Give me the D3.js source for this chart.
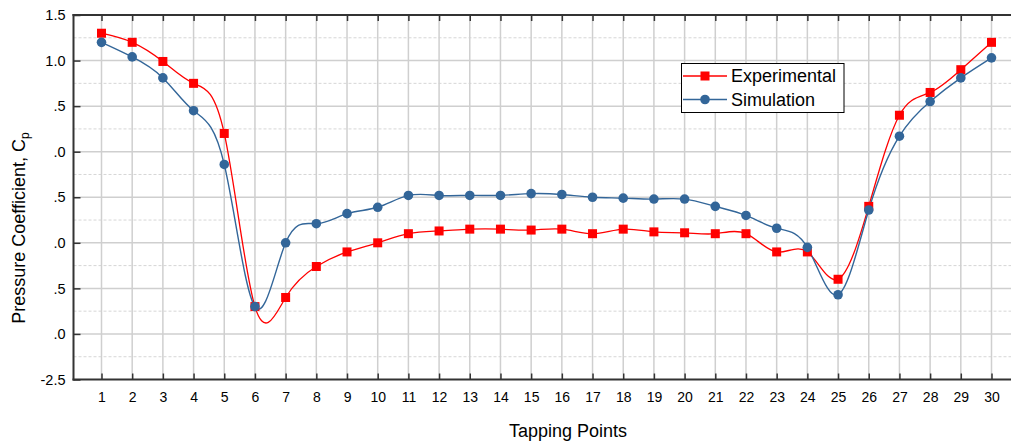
<!DOCTYPE html>
<html>
<head>
<meta charset="utf-8">
<script src="https://cdn.jsdelivr.net/npm/d3@7/dist/d3.min.js"></script>
<style>
  html, body { margin: 0; padding: 0; background: #fff; }
  svg { display: block; font-family: Arial, "Liberation Sans", sans-serif; }
</style>
</head>
<body>
<svg id="chart" width="1011" height="444"></svg>
<script>
// ---- data ----
const tappingPoints = d3.range(1, 31);
const experimental = [1.30, 1.20, 0.99, 0.75, 0.20, -1.70, -1.60, -1.26, -1.10, -1.00,
  -0.90, -0.87, -0.85, -0.85, -0.86, -0.85, -0.90, -0.85, -0.88, -0.89,
  -0.90, -0.90, -1.10, -1.10, -1.40, -0.60, 0.40, 0.65, 0.90, 1.20];
const simulation = [1.20, 1.04, 0.81, 0.45, -0.14, -1.70, -1.00, -0.79, -0.68, -0.61,
  -0.48, -0.48, -0.48, -0.48, -0.46, -0.47, -0.50, -0.51, -0.52, -0.52,
  -0.60, -0.70, -0.84, -1.05, -1.57, -0.64, 0.17, 0.55, 0.81, 1.03];
const yTickValues = [1.5, 1.0, 0.5, 0.0, -0.5, -1.0, -1.5, -2.0, -2.5];
const yTickLabels = ["1.5", "1.0", ".5", ".0", ".5", ".0", ".5", ".0", "-2.5"];
const yMinorValues = [1.25, 0.75, 0.25, -0.25, -0.75, -1.25, -1.75, -2.25];
const seriesNames = ["Experimental", "Simulation"];

// ---- layout ----
const W = 1011, H = 444;
const svg = d3.select("#chart");
const x = d3.scaleLinear().domain([1, 30]).range([101.5, 991.5]);
const xLeft = 73.5, xRight = W + 20;
const y = d3.scaleLinear().domain([-2.5, 1.5]).range([379.5, 15]);

const gridColor = "#cfcfcf";
const axisColor = "#333";
const red = "#ff0000", blue = "#336699";

// minor horizontal grid (dashed)
svg.append("g").selectAll("line").data(yMinorValues).join("line")
  .attr("x1", xLeft).attr("x2", xRight)
  .attr("y1", d => y(d)).attr("y2", d => y(d))
  .attr("stroke", "#d6d6d6").attr("stroke-width", 1).attr("stroke-dasharray", "3,2");

// major horizontal grid
svg.append("g").selectAll("line").data(yTickValues.slice(1, -1)).join("line")
  .attr("x1", xLeft).attr("x2", xRight)
  .attr("y1", d => y(d)).attr("y2", d => y(d))
  .attr("stroke", gridColor).attr("stroke-width", 1.5);

// vertical grid
svg.append("g").selectAll("line").data(tappingPoints).join("line")
  .attr("x1", d => x(d)).attr("x2", d => x(d))
  .attr("y1", y(1.5)).attr("y2", y(-2.5))
  .attr("stroke", gridColor).attr("stroke-width", 1.5);

// axes
const xAxisBottom = d3.axisBottom(x).tickValues(tappingPoints).tickSizeInner(-6).tickSizeOuter(0).tickPadding(13);
const gB = svg.append("g").attr("transform", `translate(0,${y(-2.5)})`).call(xAxisBottom);
gB.select(".domain").remove();
gB.append("line").attr("x1", xLeft - 1).attr("x2", xRight).attr("y1", 0).attr("y2", 0)
  .attr("stroke", axisColor).attr("stroke-width", 2);
gB.selectAll(".tick line").attr("stroke", axisColor).attr("stroke-width", 1.5);
gB.selectAll(".tick text").attr("font-size", 14).attr("fill", "#000")
  .attr("font-family", "Arial, 'Liberation Sans', sans-serif");

const xAxisTop = d3.axisTop(x).tickValues(tappingPoints).tickSizeInner(-6).tickSizeOuter(0).tickFormat("");
const gT = svg.append("g").attr("transform", `translate(0,${y(1.5)})`).call(xAxisTop);
gT.select(".domain").remove();
gT.append("line").attr("x1", xLeft - 1).attr("x2", xRight).attr("y1", 0).attr("y2", 0)
  .attr("stroke", axisColor).attr("stroke-width", 2);
gT.selectAll(".tick line").attr("stroke", axisColor).attr("stroke-width", 1.5);

const yAxis = d3.axisLeft(y).tickValues(yTickValues).tickSizeInner(-7).tickSizeOuter(0)
  .tickPadding(8).tickFormat((d, i) => yTickLabels[i]);
const gL = svg.append("g").attr("transform", `translate(${xLeft},0)`).call(yAxis);
gL.select(".domain").remove();
gL.append("line").attr("x1", 0).attr("x2", 0).attr("y1", y(1.5) - 1).attr("y2", y(-2.5) + 1)
  .attr("stroke", axisColor).attr("stroke-width", 2);
gL.selectAll(".tick line").attr("stroke", axisColor).attr("stroke-width", 1.5);
gL.selectAll(".tick text").attr("font-size", 14.5).attr("fill", "#000")
  .attr("font-family", "Arial, 'Liberation Sans', sans-serif");

// axis titles
svg.append("text").attr("x", 568).attr("y", 437).attr("text-anchor", "middle")
  .attr("font-size", 18).attr("fill", "#000").text("Tapping Points");
const yt = svg.append("text").attr("transform", "translate(25,228) rotate(-90)")
  .attr("text-anchor", "middle").attr("font-size", 18).attr("fill", "#000");
yt.append("tspan").text("Pressure Coefficient, C");
yt.append("tspan").attr("font-size", 12).attr("dy", 4).text("p");

// lines
const line = d3.line().x((d, i) => x(tappingPoints[i])).y(d => y(d)).curve(d3.curveNatural);
svg.append("path").datum(experimental).attr("d", line)
  .attr("fill", "none").attr("stroke", red).attr("stroke-width", 1.3);
svg.append("path").datum(simulation).attr("d", line)
  .attr("fill", "none").attr("stroke", blue).attr("stroke-width", 1.4);

// markers
const sq = 9;
svg.append("g").selectAll("rect").data(experimental).join("rect")
  .attr("x", (d, i) => x(tappingPoints[i]) - sq / 2).attr("y", d => y(d) - sq / 2)
  .attr("width", sq).attr("height", sq).attr("fill", red);
svg.append("g").selectAll("circle").data(simulation).join("circle")
  .attr("cx", (d, i) => x(tappingPoints[i])).attr("cy", d => y(d))
  .attr("r", 4.8).attr("fill", blue);

// legend
const lg = svg.append("g");
lg.append("rect").attr("x", 681.5).attr("y", 63.5).attr("width", 162.5).attr("height", 49)
  .attr("fill", "#fff").attr("stroke", "#000").attr("stroke-width", 1);
const colors = [red, blue];
seriesNames.forEach((name, i) => {
  const cy = 76 + i * 23.5;
  lg.append("line").attr("x1", 683).attr("x2", 727).attr("y1", cy).attr("y2", cy)
    .attr("stroke", colors[i]).attr("stroke-width", 1.3);
  if (i === 0) {
    lg.append("rect").attr("x", 705 - sq / 2).attr("y", cy - sq / 2).attr("width", sq).attr("height", sq).attr("fill", red);
  } else {
    lg.append("circle").attr("cx", 705).attr("cy", cy).attr("r", 4.8).attr("fill", blue);
  }
  lg.append("text").attr("x", 731).attr("y", cy).attr("dy", "0.35em")
    .attr("font-size", 18).attr("fill", "#000").text(name);
});
</script>
</body>
</html>
